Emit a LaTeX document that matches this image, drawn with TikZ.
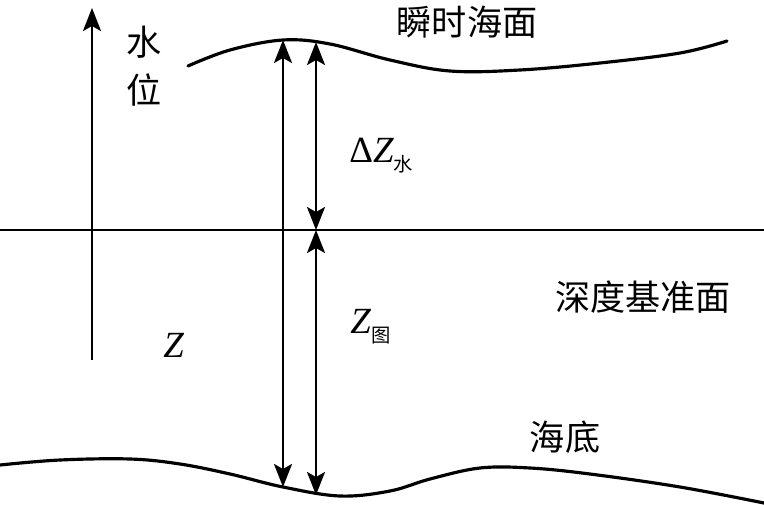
\documentclass[tikz,border=0pt]{standalone}
\usepackage{fontspec}
\setmainfont{Liberation Serif}
\newfontfamily\cjk{Noto Sans CJK SC}
\usetikzlibrary{arrows.meta}
\definecolor{inkline}{HTML}{000000}
\tikzset{
  cjktext/.style={font=\cjk\fontsize{20}{27.5}\selectfont, inner sep=0pt, align=center},
  symtext/.style={font=\fontsize{21}{24}\selectfont, inner sep=0pt},
  level/.style={line width=1.3pt, draw=inkline},
  ground/.style={line width=1.8pt, draw=inkline, line cap=round},
  gauge/.style={-{Stealth[length=4.6mm, width=3.6mm, inset=1mm]}, line width=1.4pt, draw=inkline},
  twoway/.style={{Stealth[length=4.6mm, width=3.6mm, inset=1mm]}-{Stealth[length=4.6mm, width=3.6mm, inset=1mm]}, line width=1.4pt, draw=inkline}
}
\newcommand{\cjksub}[1]{\raisebox{-0.55ex}{\cjk\fontsize{11}{11}\selectfont #1}}

\begin{document}
\begin{tikzpicture}[x=0.02cm, y=-0.02cm]
\useasboundingbox (0,0) rectangle (764,504);

% end points of the gauges
\coordinate (axisfoot) at (92,360);
\coordinate (axistip) at (92,8);
\coordinate (crestL) at (283,40);
\coordinate (bedL) at (283,487);
\coordinate (crestR) at (316,42);
\coordinate (datumR) at (316,230);
\coordinate (bedR) at (316,495);
\coordinate (datumW) at (0,230);
\coordinate (datumE) at (764,230);

% water surface and sea bed
\draw[ground] plot[smooth, tension=0.6] coordinates {(188,66) (230,50) (283,40) (330,44) (390,60) (450,71) (520,70) (600,63) (680,53) (727,41)};
\draw[ground] plot[smooth, tension=0.6] coordinates {(0,465) (60,460) (130,459) (180,464) (230,474) (283,487) (340,496) (390,491) (430,479) (480,468) (530,468) (590,474) (680,487) (764,503)};

\draw[level] (datumW) -- (datumE);

\draw[gauge] (axisfoot) -- (axistip);
\draw[twoway] (bedL) -- (crestL);
\draw[twoway] (crestR) -- (datumR);
\draw[twoway] (datumR) -- (bedR);

\node[cjktext] (waterlevel) at (144,66) {水\\位};
\node[cjktext] (surface) at (467,22) {瞬时海面};
\node[cjktext] (datum) at (643,297) {深度基准面};
\node[cjktext] (seabed) at (565,437) {海底};

\node[symtext, anchor=base west] (dz) at (349,162) {Δ\textit{Z}\cjksub{水}};
\node[symtext, anchor=base west] (zchart) at (350,333) {\textit{Z}\cjksub{图}};
\node[symtext, anchor=base west] (ztotal) at (163,357) {\textit{Z}};

\end{tikzpicture}
\end{document}
